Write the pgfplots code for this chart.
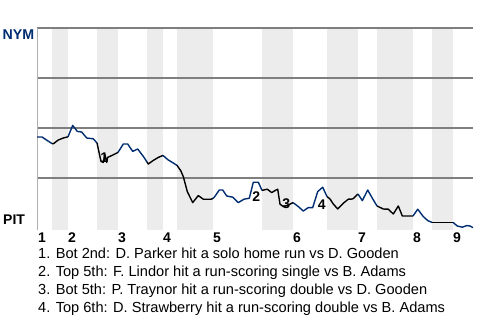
\documentclass[border=0pt]{standalone}
\usepackage{pgfplots}
\pgfplotsset{compat=1.18}
\usepackage{fontspec}
\setmainfont{Liberation Sans}
\definecolor{nym}{HTML}{002D72}
\definecolor{band}{HTML}{ECECEC}
\definecolor{gridc}{HTML}{7F7F7F}
\definecolor{leftc}{HTML}{B0B0B0}
\begin{document}
\begin{tikzpicture}[x=1bp,y=1bp]
\useasboundingbox (0,0) rectangle (480,320);
\begin{axis}[
  at={(37bp,90.5bp)}, anchor=south west,
  width=436bp, height=201.5bp, scale only axis,
  xmin=0, xmax=436, ymin=-0.75, ymax=100,
  axis line style={draw=none}, xtick=\empty, ytick=\empty,
  clip=false,
  every axis plot/.append style={line width=1.4bp, line join=round, mark=none},
]
% half-inning bands (bottom halves)
\foreach \a/\b in {15/31,60/81,110/126,140/176,225/256,290/321,340/376,395/416}{
  \edef\tmp{\noexpand\fill[band] (axis cs:\a,-0.75) rectangle (axis cs:\b,100);}\tmp
}
% gridlines
\foreach \g in {25,50,75,100}{
  \edef\tmp{\noexpand\draw[gridc, line width=1.2bp] (axis cs:0,\g) -- (axis cs:436,\g);}\tmp
}
\draw[leftc, line width=1bp] (axis cs:0,-0.75) -- (axis cs:0,100);
% top 1
\addplot[nym] coordinates {(0,45.5)(5,45.5)(10.7,43.6)(15,42.2)};
% bot 1
\addplot[black] coordinates {(15,42.2)(16.3,42.1)(21.3,44)(26.3,45)(31,45.6)};
% top 2
\addplot[nym] coordinates {(31,45.6)(35.7,51.3)(40.3,48.3)(44.7,48)(49.7,45)(56.3,44.6)(60,42.5)};
% bot 2
\addplot[black] coordinates {(60,42.5)(64,33.3)(66.3,32.8)(68,36.6)(69.7,32.8)(70.7,35.3)(76.3,36.6)(81,37.8)};
% top 3
\addplot[nym] coordinates {(81,37.8)(86.3,42)(90.7,42)(95.7,38.3)(100.7,39.5)(106.3,35.8)(110,33)};
% bot 3
\addplot[black] coordinates {(110,33)(111.3,32)(116.3,33.8)(121.3,35.3)(126,36.3)};
% top 4
\addplot[nym] coordinates {(126,36.3)(130.7,34.2)(135.3,32.8)(140,31.3)};
% bot 4
\addplot[black] coordinates {(140,31.3)(143.7,28.7)(146.3,25.7)(150.3,18.2)(155.7,12.7)(161.3,16.2)(166.3,14.4)(174,14.4)(176,14.8)};
% top 5
\addplot[nym] coordinates {(176,14.8)(177.3,15.4)(182.3,19)(185.7,19)(189.7,16)(195.7,15.4)(201.3,12.7)(207,14.4)(212.3,14.9)(216.3,22.9)(221.3,22.9)(225,18.8)};
% bot 5
\addplot[black] coordinates {(225,18.8)(230.3,19.4)(234.7,17.7)(238,18.7)(240.7,19.4)(243,11.9)(246.3,10.7)(251.3,11.5)(256,12.7)};
% top 6
\addplot[nym] coordinates {(256,12.7)(261.3,10.7)(266.3,8.5)(271.3,10.2)(275.7,10.2)(280.7,18.2)(285.7,20.4)(290,15.7)};
% bot 6
\addplot[black] coordinates {(290,15.7)(293,14.5)(296.3,12)(300.7,9.5)(306.3,12.4)(311.3,14.4)(315.7,14.5)(321,17)};
% top 7
\addplot[nym] coordinates {(321,17)(325.3,13.7)(330.7,19)(335.3,14.9)(340,11)};
% bot 7
\addplot[black] coordinates {(340,11)(346.3,9.5)(351.3,9.4)(356.3,7)(361.3,11)(365.3,6)(376,6)};
% top 8
\addplot[nym] coordinates {(376,6)(380.7,9.4)(386.3,5.7)(390.7,3.7)(395,2.8)};
% bot 8
\addplot[black] coordinates {(395,2.8)(416,2.8)};
% top 9
\addplot[nym] coordinates {(416,2.8)(420.3,1)(425.3,0.4)(429.7,1.2)(433,1)(436,0.2)};
% event markers
\begin{scope}[every node/.style={font=\bfseries\fontsize{14bp}{14bp}\selectfont, inner sep=0pt}]
\node at (axis cs:67.3,35.2) {1};
\node at (axis cs:219.3,15.7) {2};
\node at (axis cs:249.3,12) {3};
\node at (axis cs:284.7,11.5) {4};
\end{scope}
\end{axis}
% team labels
\node[anchor=base west, inner sep=0pt, text=nym, font=\bfseries\fontsize{14.2bp}{14bp}\selectfont] at (2.5,320-39.3) {NYM};
\node[anchor=base west, inner sep=0pt, font=\bfseries\fontsize{14bp}{14bp}\selectfont] at (3,320-224) {PIT};
% inning labels
\foreach \px/\n in {38/1,68/2,118/3,163/4,213/5,293/6,358/7,413/8,453/9}{
  \node[anchor=base west, inner sep=0pt, font=\bfseries\fontsize{14bp}{14bp}\selectfont] at (\px,320-242) {\n};
}
% footnotes
\begin{scope}[every node/.style={anchor=base west, inner sep=0pt, font=\fontsize{14.6bp}{16bp}\selectfont}]
\node at (38,320-258) {1. Bot 2nd: D. Parker hit a solo home run vs D. Gooden};
\node at (38,320-276) {2. Top 5th: F. Lindor hit a run-scoring single vs B. Adams};
\node at (38,320-294.5) {3. Bot 5th: P. Traynor hit a run-scoring double vs D. Gooden};
\node at (38,320-312.5) {4. Top 6th: D. Strawberry hit a run-scoring double vs B. Adams};
\end{scope}
\end{tikzpicture}
\end{document}
